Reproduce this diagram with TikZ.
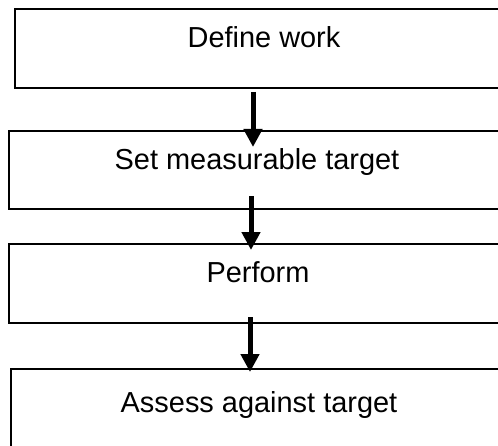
\documentclass[tikz,border=0pt]{standalone}
\usepackage{fontspec}
\setmainfont{Liberation Sans}
\usetikzlibrary{arrows.meta}
\begin{document}
\begin{tikzpicture}[x=0.75pt,y=-0.75pt,
  box/.style={draw=black, line width=1pt, inner sep=0pt, fill=white},
  lbl/.style={anchor=base, inner sep=0pt, font=\fontsize{21.7pt}{26pt}\selectfont},
  flow/.style={line width=3.75pt, -{Triangle[length=13.5pt,width=13.5pt]}}]
\useasboundingbox (0,0) rectangle (498,445);
\clip (0,0) rectangle (498,445);
\fill[white] (0,0) rectangle (498,445);
% boxes
\node[box, minimum width=379.5pt, minimum height=59.25pt] (b1) at (268,48.5) {};
\node[box, minimum width=372pt, minimum height=58.5pt] (b2) at (257,170) {};
\node[box, minimum width=373.5pt, minimum height=59.25pt] (b3) at (258,283.5) {};
\node[box, minimum width=372pt, minimum height=59.25pt] (b4) at (259,408.5) {};
% labels
\node[lbl] (t1) at (264,48) {Define work};
\node[lbl] (t2) at (257,169) {Set measurable target};
\node[lbl] (t3) at (258,282) {Perform};
\node[lbl] (t4) at (259,412) {Assess against target};
% connector ends
\coordinate (a1s) at (253,92);  \coordinate (a1e) at (253,147);
\coordinate (a2s) at (251,196); \coordinate (a2e) at (251,250);
\coordinate (a3s) at (250,317); \coordinate (a3e) at (250,372);
\draw[flow] (a1s) -- (a1e);
\draw[flow] (a2s) -- (a2e);
\draw[flow] (a3s) -- (a3e);
\end{tikzpicture}
\end{document}
